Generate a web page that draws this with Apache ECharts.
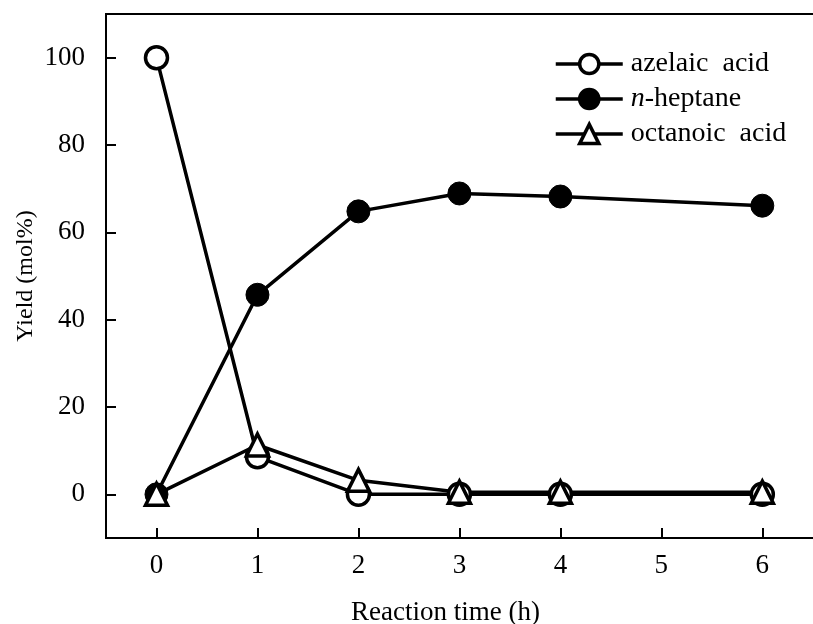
<!DOCTYPE html>
<html>
<head>
<meta charset="utf-8">
<script src="https://cdn.jsdelivr.net/npm/echarts@6/dist/echarts.min.js"></script>
<style>html,body{margin:0;padding:0;background:#fff}#c{width:813px;height:624px}</style>
</head>
<body>
<div id="c"></div>
<script>
const times = [0, 1, 2, 3, 4, 6];
const azelaic = [100, 8.6, 0, 0, 0, 0];
const heptane = [0, 45.7, 64.8, 68.9, 68.2, 66.1];
const octanoic = [0, 11.3, 3.2, 0.5, 0.5, 0.5];
const xTicks = [0, 1, 2, 3, 4, 5, 6];
const yTicks = [0, 20, 40, 60, 80, 100];

const font = '"Liberation Serif", "Times New Roman", serif';
const pairs = arr => times.map((t, i) => [t, arr[i]]);
const base = {
  type: 'line',
  symbolSize: 22,
  lineStyle: { color: '#000', width: 3.5 },
  emphasis: { disabled: true },
  animation: false
};
const chart = echarts.init(document.getElementById('c'));
chart.setOption({
  backgroundColor: '#fff',
  animation: false,
  grid: { left: 106, top: 14, right: -20, bottom: 86, outerBoundsMode: 'none', containLabel: false, show: true, borderColor: '#000', borderWidth: 2, backgroundColor: 'transparent' },
  legend: {
    orient: 'vertical', left: 549, top: 45, itemWidth: 67, itemHeight: 24, itemGap: 7,
    lineStyle: { width: 3.5, color: '#000' },
    itemStyle: { borderWidth: 3.5, borderColor: '#000' },
    textStyle: { fontFamily: font, fontSize: 28, lineHeight: 24, color: '#000', padding: [0, 0, 0, 3],
      rich: { i: { fontFamily: font, fontSize: 28, lineHeight: 24, fontStyle: 'italic', color: '#000' }, r: { fontFamily: font, fontSize: 28, lineHeight: 24, color: '#000' } } },
    formatter: n => n === 'n-heptane' ? '{i|n}{r|-heptane}' : n,
    data: ['azelaic  acid', 'n-heptane', 'octanoic  acid']
  },
  xAxis: {
    type: 'value', min: -0.5, max: 6.7,
    name: 'Reaction time (h)', nameLocation: 'middle', nameGap: 61,
    nameTextStyle: { fontFamily: font, fontSize: 27, color: '#000', padding: [0, 48, 0, 0] },
    axisLine: { onZero: false, lineStyle: { color: '#000', width: 2 } },
    axisTick: { inside: true, length: 10, lineStyle: { color: '#000', width: 2 }, customValues: xTicks },
    axisLabel: { fontFamily: font, fontSize: 27, color: '#000', margin: 14, customValues: xTicks },
    splitLine: { show: false }
  },
  yAxis: {
    type: 'value', min: -10, max: 110,
    name: 'Yield (mol%)', nameLocation: 'middle', nameGap: 68, nameMoveOverlap: false,
    nameTextStyle: { fontFamily: font, fontSize: 24, color: '#000' },
    axisLine: { onZero: false, lineStyle: { color: '#000', width: 2 } },
    axisTick: { inside: true, length: 10, lineStyle: { color: '#000', width: 2 }, customValues: yTicks },
    axisLabel: { fontFamily: font, fontSize: 27, color: '#000', margin: 21, customValues: yTicks },
    splitLine: { show: false }
  },
  series: [
    Object.assign({}, base, { name: 'azelaic  acid', symbol: 'circle', data: pairs(azelaic), itemStyle: { color: '#fff', borderColor: '#000', borderWidth: 3.5 } }),
    Object.assign({}, base, { name: 'n-heptane', symbol: 'circle', symbolSize: 23, data: pairs(heptane), itemStyle: { color: '#000', borderColor: '#000', borderWidth: 1 } }),
    Object.assign({}, base, { name: 'octanoic  acid', symbol: 'triangle', data: pairs(octanoic), itemStyle: { color: '#fff', borderColor: '#000', borderWidth: 3.5 } })
  ]
});
</script>
</body>
</html>
